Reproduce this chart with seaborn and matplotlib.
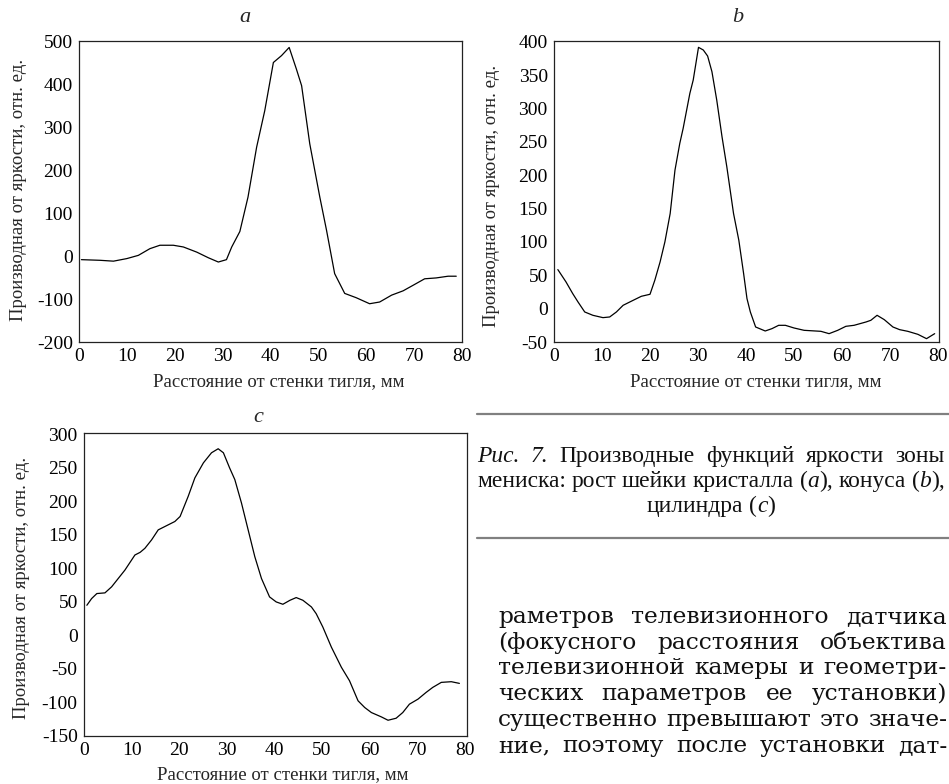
import matplotlib
matplotlib.use("Agg")
import matplotlib.pyplot as plt
import seaborn as sns
import pandas as pd
from matplotlib.lines import Line2D

# ---------------- data ----------------
dist_a = [0.5, 4.4, 7.2, 10.0, 12.4, 14.8, 16.9, 19.7, 21.8, 24.6, 27.0, 29.1, 30.8,
          31.9, 33.6, 35.3, 37.1, 38.8, 40.6, 42.3, 43.9, 45.4, 46.5, 48.2, 50.3, 51.7,
          53.4, 55.5, 57.9, 60.7, 62.8, 65.3, 67.7, 69.8, 72.2, 74.6, 77.1, 78.8]
deriv_a = [-8.5, -10, -12, -6, 1.5, 17, 25, 25, 21, 9, -4, -14, -8.5,
           21, 57, 137, 253, 338, 450, 466, 485, 435, 396, 261, 137, 60,
           -41, -87, -97, -111, -107, -91, -81, -68, -53, -51, -47, -47]

dist_b = [0.8, 2.5, 3.9, 5.0, 6.4, 8.1, 10.2, 11.6, 13.0, 14.4, 16.5, 18.2, 20.0,
          21.0, 22.1, 23.1, 24.2, 25.2, 26.2, 26.9, 28.3, 29.0, 30.1, 31.1, 32.0,
          32.9, 33.9, 35.0, 36.0, 37.4, 38.5, 39.5, 40.2, 40.9, 42.0, 44.0, 45.4,
          46.8, 48.2, 50.0, 52.1, 55.6, 57.3, 59.1, 60.8, 62.5, 65.0, 66.0, 67.3,
          68.8, 70.6, 72.0, 73.7, 75.8, 77.6, 79.3]
deriv_b = [58.5, 40, 22.5, 10, -5, -10, -13.5, -12.5, -5, 5, 12.5, 18.5, 21.5,
           42.5, 70, 100, 142.5, 207.5, 247.5, 270, 322.5, 342.5, 391.5, 387.5, 378.5,
           355, 312.5, 257.5, 212.5, 142.5, 102.5, 52.5, 15, -5, -27.5, -33.5, -30,
           -25, -25, -29, -32.5, -34, -37.5, -32.5, -26.5, -25, -20, -17.5, -10,
           -16.5, -27.5, -31.5, -34, -38.5, -45, -37.5]

dist_c = [0.6, 1.6, 2.7, 4.4, 5.8, 7.2, 8.6, 10.0, 10.7, 11.8, 12.8, 14.2, 15.6,
          17.7, 19.1, 20.2, 21.9, 23.3, 25.1, 26.8, 28.2, 29.3, 30.6, 31.7, 33.1,
          34.5, 35.9, 37.3, 39.0, 40.4, 41.8, 43.3, 44.6, 46.0, 47.8, 48.8, 50.2,
          52.0, 54.1, 55.8, 57.6, 59.0, 60.4, 62.5, 63.9, 65.6, 67.0, 68.4, 70.2,
          71.9, 73.3, 75.1, 77.2, 78.9]
deriv_c = [45, 55, 62.5, 63.5, 72.5, 85, 97.5, 112.5, 120, 124, 130, 142.5, 157.5,
           165, 170, 177.5, 207.5, 235, 257.5, 272.5, 278.5, 272.5, 250, 232.5, 197.5,
           157.5, 117.5, 85, 57.5, 50, 46.5, 52.5, 56.5, 52.5, 42.5, 32.5, 12.5,
           -17.5, -47.5, -67.5, -97.5, -107.5, -115, -121.5, -126.5, -123.5, -115, -102.5, -95,
           -85, -77.5, -70, -69, -71.5]

yticks_a = [-200, -100, 0, 100, 200, 300, 400, 500]
yticks_b = [-50, 0, 50, 100, 150, 200, 250, 300, 350, 400]
yticks_c = [-150, -100, -50, 0, 50, 100, 150, 200, 250, 300]
xticks = [0, 10, 20, 30, 40, 50, 60, 70, 80]

panel_letters = ["a", "b", "c"]
xlabel_text = "Расстояние от стенки тигля, мм"
ylabel_text = "Производная от яркости, отн. ед."

caption_lines = ["_Рис._ _7._ Производные функций яркости зоны",
                 "мениска: рост шейки кристалла (_a_), конуса (_b_),",
                 "цилиндра (_c_)"]
body_lines = ["раметров телевизионного датчика",
              "(фокусного расстояния объектива",
              "телевизионной камеры и геометри-",
              "ческих параметров ее установки)",
              "существенно превышают это значе-",
              "ние, поэтому после установки дат-"]

# ---------------- style ----------------
W, H = 949, 784
sns.set_theme(style="white")
plt.rcParams["font.family"] = ["Liberation Serif", "DejaVu Serif"]
plt.rcParams["axes.unicode_minus"] = False

fig = plt.figure(figsize=(W / 100, H / 100), dpi=100)


def add_axes_px(l, t, r, b):
    return fig.add_axes([l / W, 1 - b / H, (r - l) / W, (b - t) / H])


panels = [
    dict(rect=(79, 41, 462, 342), x=dist_a, y=deriv_a, ylim=(-200, 500), yt=yticks_a,
         xlim=(0, 80), title_xy=(245, 18), xl=(0.522, -0.13), yl=(-0.158, 0.505)),
    dict(rect=(554, 41, 939, 342), x=dist_b, y=deriv_b, ylim=(-50, 401), yt=yticks_b,
         xlim=(0, 80.2), title_xy=(738, 18), xl=(0.525, -0.13), yl=(-0.163, 0.485)),
    dict(rect=(84, 433, 467, 736), x=dist_c, y=deriv_c, ylim=(-150, 302), yt=yticks_c,
         xlim=(0, 80.5), title_xy=(258, 417), xl=(0.52, -0.126), yl=(-0.163, 0.49)),
]

for letter, p in zip(panel_letters, panels):
    ax = add_axes_px(*p["rect"])
    df = pd.DataFrame({"dist": p["x"], "val": p["y"]})
    sns.lineplot(data=df, x="dist", y="val", ax=ax, color="black", linewidth=0.9,
                 sort=False, legend=False)
    ax.set_xlim(*p["xlim"])
    ax.set_ylim(*p["ylim"])
    ax.set_xticks(xticks, labels=[str(v) for v in xticks])
    ax.set_yticks(p["yt"], labels=[str(v) for v in p["yt"]])
    ax.tick_params(axis="both", direction="in", length=3, width=0.8, color="#222222",
                   labelsize=14, pad=4.5, labelcolor="black")
    ax.tick_params(axis="both", which="both", top=False, right=False)
    for s in ax.spines.values():
        s.set_visible(True)
        s.set_linewidth(0.9)
        s.set_color("#222222")
    ax.set_xlabel(xlabel_text, fontsize=13.5, va="center")
    ax.set_ylabel(ylabel_text, fontsize=13.5, va="center")
    ax.xaxis.set_label_coords(*p["xl"])
    ax.yaxis.set_label_coords(*p["yl"])
    ax.grid(False)
    ax.set_facecolor("white")
    tx, ty = p["title_xy"]
    fig.text(tx / W, 1 - ty / H, letter, fontsize=16, style="italic",
             ha="center", va="center")

# ---------------- caption & body text ----------------
renderer = fig.canvas.get_renderer()


def parse_words(line):
    words = []
    for w in line.split(" "):
        segs = []
        parts = w.split("_")
        for i, part in enumerate(parts):
            if part:
                segs.append((part, "italic" if i % 2 == 1 else "normal"))
        words.append(segs)
    return words


def seg_width(txt, st, fs, fam):
    t = fig.text(0, 0, txt, fontsize=fs, style=st, family=fam)
    w = t.get_window_extent(renderer).width
    t.remove()
    return w


def natural_width(line, fs, fam):
    t = fig.text(0, 0, line.replace("_", ""), fontsize=fs, family=fam)
    w = t.get_window_extent(renderer).width
    t.remove()
    return w


def draw_line(line, fs, fam, y, x0, x1, mode="justify"):
    words = parse_words(line)
    widths = [[seg_width(s, st, fs, fam) for s, st in wd] for wd in words]
    totals = [sum(w) for w in widths]
    if mode == "justify" and len(words) > 1:
        gap = (x1 - x0 - sum(totals)) / (len(words) - 1)
        x = x0
    else:
        gap = seg_width("a b", "normal", fs, fam) - seg_width("ab", "normal", fs, fam)
        full = sum(totals) + gap * (len(words) - 1)
        x = (x0 + x1) / 2 - full / 2
    for wd, ws in zip(words, widths):
        for (s, st), w in zip(wd, ws):
            fig.text(x / W, 1 - y / H, s, fontsize=fs, style=st, family=fam, ha="left",
                     va="baseline", color="#111111")
            x += w
        x += gap


cap_fam = ["Liberation Serif", "DejaVu Serif"]
cap_x0, cap_x1 = 477, 945
fs_cap = 10 * (cap_x1 - cap_x0) / natural_width(caption_lines[1], 10, cap_fam)
cap_base = [462, 487, 512]
draw_line(caption_lines[0], fs_cap, cap_fam, cap_base[0], cap_x0, cap_x1)
draw_line(caption_lines[1], fs_cap, cap_fam, cap_base[1], cap_x0, cap_x1)
draw_line(caption_lines[2], fs_cap, cap_fam, cap_base[2], cap_x0, cap_x1, mode="center")

fig.add_artist(Line2D([cap_x0 / W, 1.0], [1 - 414 / H] * 2, color="#808080", lw=1.6))
fig.add_artist(Line2D([cap_x0 / W, 1.0], [1 - 538 / H] * 2, color="#808080", lw=1.6))

body_fam = ["DejaVu Serif", "Liberation Serif"]
body_x0, body_x1 = 498, 947
fs_body = 10 * (body_x1 - body_x0) / natural_width(body_lines[4], 10, body_fam)
body_base = [623, 649, 674, 700, 726, 752]
for ln, yb in zip(body_lines, body_base):
    draw_line(ln, fs_body, body_fam, yb, body_x0, body_x1)

fig.savefig("out.png", dpi=100, facecolor="white")
